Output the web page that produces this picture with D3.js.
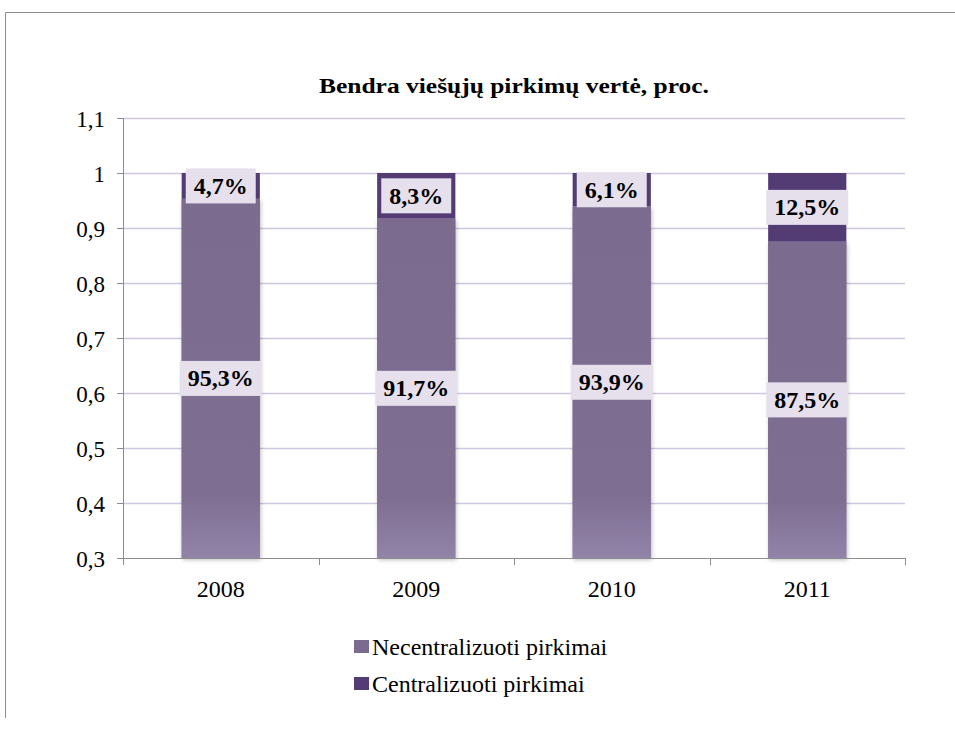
<!DOCTYPE html>
<html><head><meta charset="utf-8">
<script src="https://cdn.jsdelivr.net/npm/d3@7"></script>
<style>body{margin:0;background:#fff}svg{display:block}</style>
</head><body>
<script>
const categories = ["2008", "2009", "2010", "2011"];
const necentralizuoti = [0.953, 0.917, 0.939, 0.875];
const centralizuoti = [0.047, 0.083, 0.061, 0.125];
const yTicks = [0.3, 0.4, 0.5, 0.6, 0.7, 0.8, 0.9, 1.0, 1.1];
const seriesNames = ["Necentralizuoti pirkimai", "Centralizuoti pirkimai"];
const title = "Bendra viešųjų pirkimų vertė, proc.";

const W = 955, H = 731;
const m = {left: 123, right: 905, top: 118, bottom: 558};
const FONT = '"Liberation Serif", "Times New Roman", serif';
const fmt = v => (v === 1 ? "1" : String(Math.round(v*10)/10).replace(".", ","));
const pct = v => (Math.round(v*1000)/10).toFixed(1).replace(".", ",") + "%";

const svg = d3.select("body").append("svg").attr("width", W).attr("height", H);
const defs = svg.append("defs");
const g1 = defs.append("linearGradient").attr("id","gN").attr("x1",0).attr("y1",0).attr("x2",0).attr("y2",1);
g1.append("stop").attr("offset","0").attr("stop-color","#7b6c8f");
g1.append("stop").attr("offset","0.82").attr("stop-color","#7d6e92");
g1.append("stop").attr("offset","1").attr("stop-color","#9283a8");
const f = defs.append("filter").attr("id","sh").attr("x","-20%").attr("y","-5%").attr("width","140%").attr("height","115%");
f.append("feDropShadow").attr("dx",1).attr("dy",2).attr("stdDeviation",2).attr("flood-color","#000").attr("flood-opacity",0.25);
const clip = defs.append("clipPath").attr("id","pc");

// frame
svg.append("path").attr("d", `M5.5,${H-13} V12.5 H${W}`).attr("fill","none").attr("stroke","#8c8c8c").attr("stroke-width",1);

const xb = d3.scaleBand().domain(categories).range([m.left, m.right]);
const barW = xb.step() * 0.4;
const bx = c => xb(c) + (xb.step() - barW) / 2;
const y = d3.scaleLinear().domain([0.3, 1.1]).range([m.bottom, m.top]);
clip.append("rect").attr("x", m.left).attr("y", m.top).attr("width", m.right-m.left).attr("height", m.bottom-m.top+6);

// gridlines
svg.append("g").selectAll("line").data(yTicks.slice(1)).join("line")
  .attr("x1", m.left).attr("x2", m.right).attr("y1", d => Math.round(y(d))+0.5).attr("y2", d => Math.round(y(d))+0.5)
  .attr("stroke", "#cfc6df").attr("stroke-width", 1.3);

// title
svg.append("text").attr("x", (m.left+m.right)/2).attr("y", 93).attr("text-anchor","middle")
  .style("font-family", FONT).attr("font-weight","bold").attr("font-size", 20).attr("fill","#000")
  .attr("textLength", 390).attr("lengthAdjust","spacingAndGlyphs").text(title);

// bars
const stack = categories.map((c,i) => ({c, n: necentralizuoti[i], ce: centralizuoti[i]}));
const bars = svg.append("g").attr("clip-path","url(#pc)");
bars.selectAll("rect.n").data(stack).join("rect").attr("class","n")
  .attr("x", d => bx(d.c)).attr("width", barW)
  .attr("y", d => y(d.n)).attr("height", d => y(0.3) - y(d.n))
  .attr("fill","url(#gN)").attr("filter","url(#sh)");
bars.selectAll("rect.c").data(stack).join("rect").attr("class","c")
  .attr("x", d => bx(d.c)).attr("width", barW)
  .attr("y", d => y(d.n + d.ce)).attr("height", d => y(d.n) - y(d.n + d.ce))
  .attr("fill","#533b74");
bars.selectAll("rect.n2").data(stack).join("rect").attr("class","n2")
  .attr("x", d => bx(d.c)).attr("width", barW)
  .attr("y", d => y(d.n)).attr("height", d => y(0.3) - y(d.n))
  .attr("fill","url(#gN)");

// axes
const ax = svg.append("g").attr("transform", `translate(0,${m.bottom})`);
ax.append("line").attr("x1", m.left).attr("x2", m.right).attr("y1", 0.5).attr("y2", 0.5).attr("stroke","#8c8c8c");
ax.selectAll("line.t").data(d3.range(categories.length+1)).join("line").attr("class","t")
  .attr("x1", i => Math.round(m.left + i*xb.step())+0.5).attr("x2", i => Math.round(m.left + i*xb.step())+0.5)
  .attr("y1", 0).attr("y2", 7).attr("stroke","#8c8c8c");
ax.selectAll("text").data(categories).join("text")
  .attr("x", d => xb(d) + xb.bandwidth()/2).attr("y", 39).attr("text-anchor","middle")
  .style("font-family", FONT).attr("font-size", 24).attr("fill","#000").text(d => d);

const ay = svg.append("g");
ay.append("line").attr("x1", m.left+0.5).attr("x2", m.left+0.5).attr("y1", m.top).attr("y2", m.bottom).attr("stroke","#8c8c8c");
ay.selectAll("line.t").data(yTicks).join("line").attr("class","t")
  .attr("x1", m.left-6).attr("x2", m.left).attr("y1", d => Math.round(y(d))+0.5).attr("y2", d => Math.round(y(d))+0.5).attr("stroke","#8c8c8c");
ay.selectAll("text").data(yTicks).join("text")
  .attr("x", 105).attr("y", d => y(d)+9).attr("text-anchor","end")
  .style("font-family", FONT).attr("font-size", 23).attr("fill","#000").text(fmt);

// data labels
function label(cx, cy, txt) {
  const gL = svg.append("g");
  const t = gL.append("text").attr("x", cx).attr("y", cy+8).attr("text-anchor","middle")
    .style("font-family", FONT).attr("font-weight","bold").attr("font-size", 24).attr("fill","#000").text(txt);
  const bb = t.node().getBBox();
  gL.insert("rect","text").attr("x", bb.x-8).attr("y", cy-17.5).attr("width", bb.width+16).attr("height", 35).attr("fill","#e6dfec");
}
stack.forEach(d => {
  const cx = bx(d.c) + barW/2;
  label(cx, y((0.3 + d.n)/2), pct(d.n));
  label(cx, y(d.n + d.ce/2), pct(d.ce));
});

// legend
const colors = ["#7b6c8f", "#533b74"];
const lg = svg.append("g");
seriesNames.forEach((s,i) => {
  const yy = 647 + i*37;
  lg.append("rect").attr("x", 354).attr("y", yy-7).attr("width", 15).attr("height", 13).attr("fill", colors[i]);
  lg.append("text").attr("x", 372).attr("y", yy+8).style("font-family", FONT).attr("font-size", 24).attr("fill","#000").text(s);
});
</script>
</body></html>
